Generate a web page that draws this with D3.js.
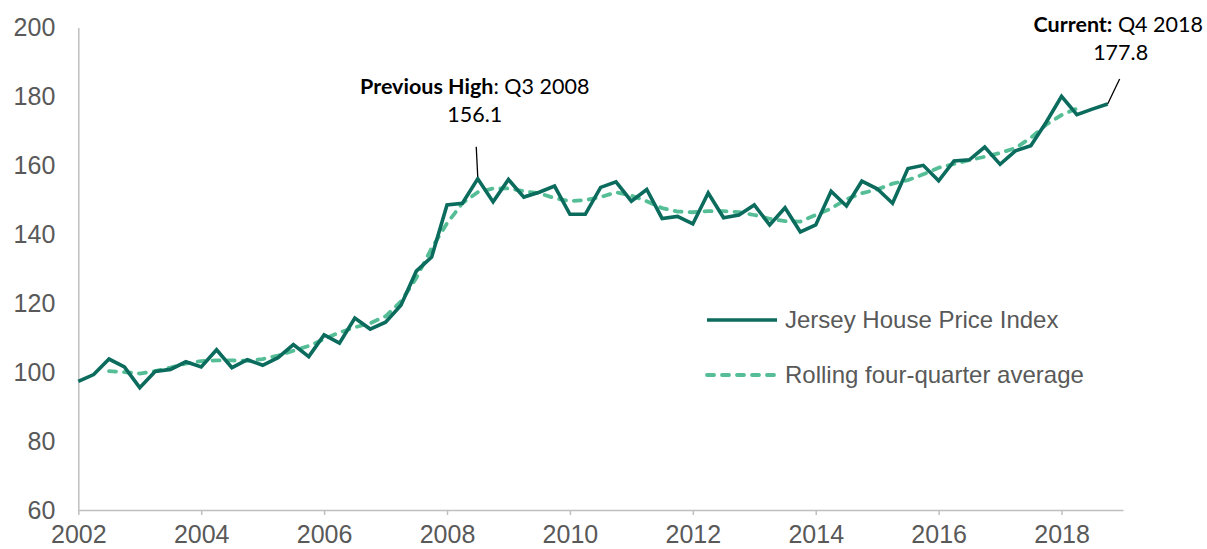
<!DOCTYPE html>
<html>
<head>
<meta charset="utf-8">
<script src="https://cdn.jsdelivr.net/npm/d3@7"></script>
<style>
  body { margin: 0; background: #fff; }
  .axis text { font-family: "Liberation Sans", Arial, sans-serif; font-size: 25px; fill: #595959; }
  .axis path, .axis line { stroke: #BFBFBF; stroke-width: 1.5; }
  .legend text { font-family: "Liberation Sans", Arial, sans-serif; font-size: 24px; fill: #595959; }
  .note { font-family: Lato, "Open Sans", sans-serif; font-size: 21.5px; fill: #000; }
</style>
</head>
<body>
<svg id="chart" width="1207" height="549"></svg>
<script>
// quarterly Jersey house price index, Q1 2002 .. Q4 2018
var years = [2002, 2003, 2004, 2005, 2006, 2007, 2008, 2009, 2010,
             2011, 2012, 2013, 2014, 2015, 2016, 2017, 2018];
var quarterNames = ["Q1", "Q2", "Q3", "Q4"];

var hpi = [
  97.3, 99.3, 103.8, 101.5,    // 2002
  95.5, 100.2, 100.8, 103.0,   // 2003
  101.5, 106.5, 101.3, 103.6,  // 2004
  102.0, 104.2, 108.0, 104.5,  // 2005
  110.8, 108.4, 115.7, 112.5,  // 2006
  114.5, 119.4, 129.3, 133.4,  // 2007
  148.5, 149.0, 156.1, 149.4,  // 2008
  155.9, 150.8, 152.2, 154.0,  // 2009
  145.8, 145.8, 153.6, 155.2,  // 2010
  149.6, 153.0, 144.6, 145.2,  // 2011
  143.0, 152.0, 144.8, 145.6,  // 2012
  148.5, 142.7, 147.7, 140.7,  // 2013
  142.7, 152.5, 148.2, 155.4,  // 2014
  153.2, 149.0, 159.1, 160.0,  // 2015
  155.5, 161.3, 161.6, 165.3,  // 2016
  160.3, 164.2, 165.7, 172.5,  // 2017
  180.0, 174.7, 176.3, 177.8   // 2018
];

// centred rolling four-quarter average (blank where it is not shown)
var rolling = [
  null, null, 100.3, 100.0,
  99.6, 100.3, 101.3, 102.5,
  103.2, 103.4, 103.4, 103.3,
  103.8, 104.8, 106.2, 107.6,
  109.6, 111.5, 113.0, 114.2,
  116.2, 120.5, 127.3, 136.0,
  143.2, 149.0, 152.2, 153.3,
  153.3, 152.5, 151.9, 150.5,
  149.6, 149.9, 150.8, 152.2,
  151.2, 149.6, 147.6, 146.6,
  146.4, 146.7, 146.7, 146.4,
  145.6, 144.5, 143.8, 143.7,
  145.6, 147.5, 150.2, 151.9,
  153.0, 154.7, 155.7, 157.4,
  159.3, 160.4, 161.5, 162.5,
  163.6, 165.0, 168.0, 171.8,
  174.6, 176.5, null, null
];

var yTicks = [60, 80, 100, 120, 140, 160, 180, 200];
var xTickLabels = ["2002", "2004", "2006", "2008", "2010", "2012", "2014", "2016", "2018"];
var seriesNames = ["Jersey House Price Index", "Rolling four-quarter average"];

var quarters = [];
years.forEach(function(yr) {
  quarterNames.forEach(function(q) { quarters.push(q + " " + yr); });
});

var svg = d3.select("#chart");
var margin = {top: 27.5, right: 84, bottom: 39, left: 78.3};
var width = 1207 - margin.left - margin.right;
var height = 549 - margin.top - margin.bottom;

var g = svg.append("g").attr("transform", "translate(" + margin.left + "," + margin.top + ")");

// one step per quarter, axis runs one quarter past the last point
var x = d3.scaleLinear().domain([0, quarters.length]).range([0, width]);
var y = d3.scaleLinear().domain([60, 200]).range([height, 0]);

var tickIdx = xTickLabels.map(function(lab) { return quarters.indexOf("Q1 " + lab); });

g.append("g")
  .attr("class", "axis")
  .attr("transform", "translate(0," + height + ")")
  .call(d3.axisBottom(x)
    .tickValues(tickIdx)
    .tickSize(5)
    .tickSizeOuter(0)
    .tickPadding(10)
    .tickFormat(function(i) { return quarters[i].slice(3); }));

g.append("g")
  .attr("class", "axis")
  .call(d3.axisLeft(y)
    .tickValues(yTicks)
    .tickSize(0)
    .tickSizeOuter(0)
    .tickPadding(23)
    .tickFormat(d3.format("d")));

var line = d3.line()
  .defined(function(d) { return d != null; })
  .x(function(d, i) { return x(i); })
  .y(function(d) { return y(d); });

g.append("path")
  .datum(rolling)
  .attr("fill", "none")
  .attr("stroke", "#55BE96")
  .attr("stroke-width", 3.8)
  .attr("stroke-linecap", "round")
  .attr("stroke-dasharray", "7,8")
  .attr("d", line);

g.append("path")
  .datum(hpi)
  .attr("fill", "none")
  .attr("stroke", "#0B6B5D")
  .attr("stroke-width", 3.6)
  .attr("d", line);

// legend
var legend = g.append("g")
  .attr("class", "legend")
  .selectAll("g")
  .data(seriesNames)
  .enter().append("g")
  .attr("transform", function(d, i) { return "translate(" + (707 - margin.left) + "," + (320 - margin.top + i * 55) + ")"; });

legend.append("line")
  .attr("x1", 0).attr("x2", 70)
  .attr("stroke", function(d, i) { return i === 0 ? "#0B6B5D" : "#55BE96"; })
  .attr("stroke-width", function(d, i) { return i === 0 ? 3.6 : 3.8; })
  .attr("stroke-linecap", function(d, i) { return i === 0 ? "butt" : "round"; })
  .attr("stroke-dasharray", function(d, i) { return i === 0 ? null : "7,8"; });

legend.append("text")
  .attr("x", 78)
  .attr("y", 8)
  .text(function(d) { return d; });

// annotations
var hiIdx = quarters.indexOf("Q3 2008");
var curIdx = quarters.length - 1;

g.append("line")
  .attr("x1", x(hiIdx)).attr("y1", y(hpi[hiIdx]) - 2)
  .attr("x2", x(hiIdx) - 1.5).attr("y2", y(hpi[hiIdx]) - 32)
  .attr("stroke", "#000").attr("stroke-width", 1.3);

var hiNote = g.append("text").attr("class", "note")
  .attr("x", x(hiIdx) - 3).attr("y", 94 - margin.top)
  .attr("text-anchor", "middle");
hiNote.append("tspan").attr("font-weight", "bold").text("Previous High");
hiNote.append("tspan").text(": " + quarters[hiIdx]);

g.append("text").attr("class", "note")
  .attr("x", x(hiIdx) - 3).attr("y", 122 - margin.top)
  .attr("text-anchor", "middle")
  .text(hpi[hiIdx].toFixed(1));

g.append("line")
  .attr("x1", x(curIdx)).attr("y1", y(hpi[curIdx]))
  .attr("x2", x(curIdx) + 12).attr("y2", y(hpi[curIdx]) - 25)
  .attr("stroke", "#000").attr("stroke-width", 1.3);

var curNote = g.append("text").attr("class", "note")
  .attr("x", 1203 - margin.left).attr("y", 32 - margin.top)
  .attr("text-anchor", "end");
curNote.append("tspan").attr("font-weight", "bold").text("Current:");
curNote.append("tspan").text(" " + quarters[curIdx]);

g.append("text").attr("class", "note")
  .attr("x", x(curIdx) + 13).attr("y", 60 - margin.top)
  .attr("text-anchor", "middle")
  .text(hpi[curIdx].toFixed(1));
</script>
</body>
</html>
